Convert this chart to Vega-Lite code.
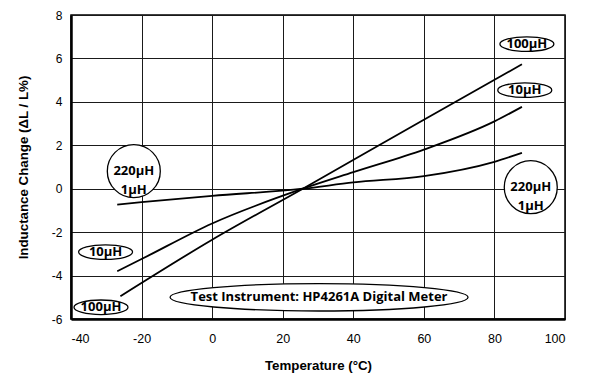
{
  "$schema": "https://vega.github.io/schema/vega-lite/v6.json",
  "width": 494,
  "height": 304,
  "autosize": {"type": "none"},
  "padding": {"left": 71, "top": 15, "right": 27, "bottom": 57},
  "background": "#ffffff",
  "config": {
    "view": {"stroke": "#000000", "strokeWidth": 1.5},
    "font": "Liberation Sans"
  },
  "datasets": {
    "curves": [
      {"series": "100µH", "t": -26, "v": -4.95},
      {"series": "100µH", "t": 0, "v": -2.35},
      {"series": "100µH", "t": 25.7, "v": 0},
      {"series": "100µH", "t": 60, "v": 3.18},
      {"series": "100µH", "t": 87.8, "v": 5.73},
      {"series": "10µH", "t": -26.9, "v": -3.8},
      {"series": "10µH", "t": -20, "v": -3.24},
      {"series": "10µH", "t": 0, "v": -1.6},
      {"series": "10µH", "t": 25.7, "v": 0},
      {"series": "10µH", "t": 40, "v": 0.76},
      {"series": "10µH", "t": 60, "v": 1.8},
      {"series": "10µH", "t": 80, "v": 3.1},
      {"series": "10µH", "t": 87.8, "v": 3.77},
      {"series": "220µH/1µH", "t": -26.9, "v": -0.73},
      {"series": "220µH/1µH", "t": -20, "v": -0.62},
      {"series": "220µH/1µH", "t": 0, "v": -0.33},
      {"series": "220µH/1µH", "t": 25.7, "v": 0},
      {"series": "220µH/1µH", "t": 40, "v": 0.29},
      {"series": "220µH/1µH", "t": 60, "v": 0.58},
      {"series": "220µH/1µH", "t": 80, "v": 1.24},
      {"series": "220µH/1µH", "t": 87.8, "v": 1.65}
    ],
    "labels": [
      {"label": "100µH", "t": 89.2, "v": 6.66, "kind": "small"},
      {"label": "10µH", "t": 88.6, "v": 4.54, "kind": "small"},
      {"label": "220µH\n1µH", "t": 90.3, "v": 0.07, "kind": "circle"},
      {"label": "220µH\n1µH", "t": -22.2, "v": 0.81, "kind": "circle"},
      {"label": "10µH", "t": -30.2, "v": -2.92, "kind": "small"},
      {"label": "100µH", "t": -31.5, "v": -5.46, "kind": "small"},
      {"label": "Test Instrument: HP4261A Digital Meter", "t": 30.3, "v": -5.0, "kind": "wide"}
    ]
  },
  "layer": [
    {
      "data": {"name": "curves"},
      "mark": {"type": "line", "color": "#000000", "strokeWidth": 1.8, "interpolate": "monotone"},
      "encoding": {
        "x": {
          "field": "t", "type": "quantitative",
          "scale": {"domain": [-40, 100], "nice": false, "zero": false},
          "axis": {
            "values": [-40, -20, 0, 20, 40, 60, 80, 100],
            "title": "Temperature (°C)",
            "titleFont": "Liberation Sans", "titleFontSize": 13.3, "titleFontWeight": "bold", "titleColor": "#000000",
            "titlePadding": 14,
            "labelFont": "Liberation Sans", "labelFontSize": 12.5, "labelColor": "#000000",
            "labelPadding": 13,
            "labelExpr": "'' + datum.value",
            "ticks": false,
            "domainColor": "#000000", "domainWidth": 2.5,
            "grid": true, "gridColor": "#1a1a1a", "gridWidth": 1, "gridOpacity": 1
          }
        },
        "y": {
          "field": "v", "type": "quantitative",
          "scale": {"domain": [-6, 8], "nice": false, "zero": false},
          "axis": {
            "values": [-6, -4, -2, 0, 2, 4, 6, 8],
            "title": "Inductance Change (ΔL / L%)",
            "titleFont": "Liberation Sans", "titleFontSize": 13.3, "titleFontWeight": "bold", "titleColor": "#000000",
            "titlePadding": 21,
            "labelFont": "Liberation Sans", "labelFontSize": 12, "labelColor": "#000000",
            "labelPadding": 9,
            "labelExpr": "'' + datum.value",
            "ticks": false,
            "domainColor": "#000000", "domainWidth": 2.5,
            "grid": true, "gridColor": "#1a1a1a", "gridWidth": 1, "gridOpacity": 1
          }
        },
        "detail": {"field": "series"}
      }
    },
    {
      "data": {"name": "labels"},
      "transform": [{"filter": "datum.kind === 'small'"}],
      "mark": {"type": "point", "shape": "M-1,0A1,0.27 0 1,1 1,0A1,0.27 0 1,1 -1,0Z", "size": 2916, "filled": true, "fill": "#ffffff", "stroke": "#000000", "strokeWidth": 1.3, "opacity": 1},
      "encoding": {
        "x": {"field": "t", "type": "quantitative"},
        "y": {"field": "v", "type": "quantitative"}
      }
    },
    {
      "data": {"name": "labels"},
      "transform": [{"filter": "datum.kind === 'wide'"}],
      "mark": {"type": "point", "shape": "M-1,0A1,0.092 0 1,1 1,0A1,0.092 0 1,1 -1,0Z", "size": 88804, "filled": true, "fill": "#ffffff", "stroke": "#000000", "strokeWidth": 1.3, "opacity": 1},
      "encoding": {
        "x": {"field": "t", "type": "quantitative"},
        "y": {"field": "v", "type": "quantitative"}
      }
    },
    {
      "data": {"name": "labels"},
      "transform": [{"filter": "datum.kind === 'circle'"}],
      "mark": {"type": "point", "shape": "circle", "size": 2809, "filled": true, "fill": "#ffffff", "stroke": "#000000", "strokeWidth": 1.3, "opacity": 1},
      "encoding": {
        "x": {"field": "t", "type": "quantitative"},
        "y": {"field": "v", "type": "quantitative"}
      }
    },
    {
      "data": {"name": "labels"},
      "mark": {"type": "text", "font": "Open Sans", "fontSize": 13, "fontWeight": "bold", "color": "#000000", "align": "center", "baseline": "middle", "lineBreak": "\n", "lineHeight": 19},
      "encoding": {
        "x": {"field": "t", "type": "quantitative"},
        "y": {"field": "v", "type": "quantitative"},
        "text": {"field": "label"}
      }
    }
  ]
}
